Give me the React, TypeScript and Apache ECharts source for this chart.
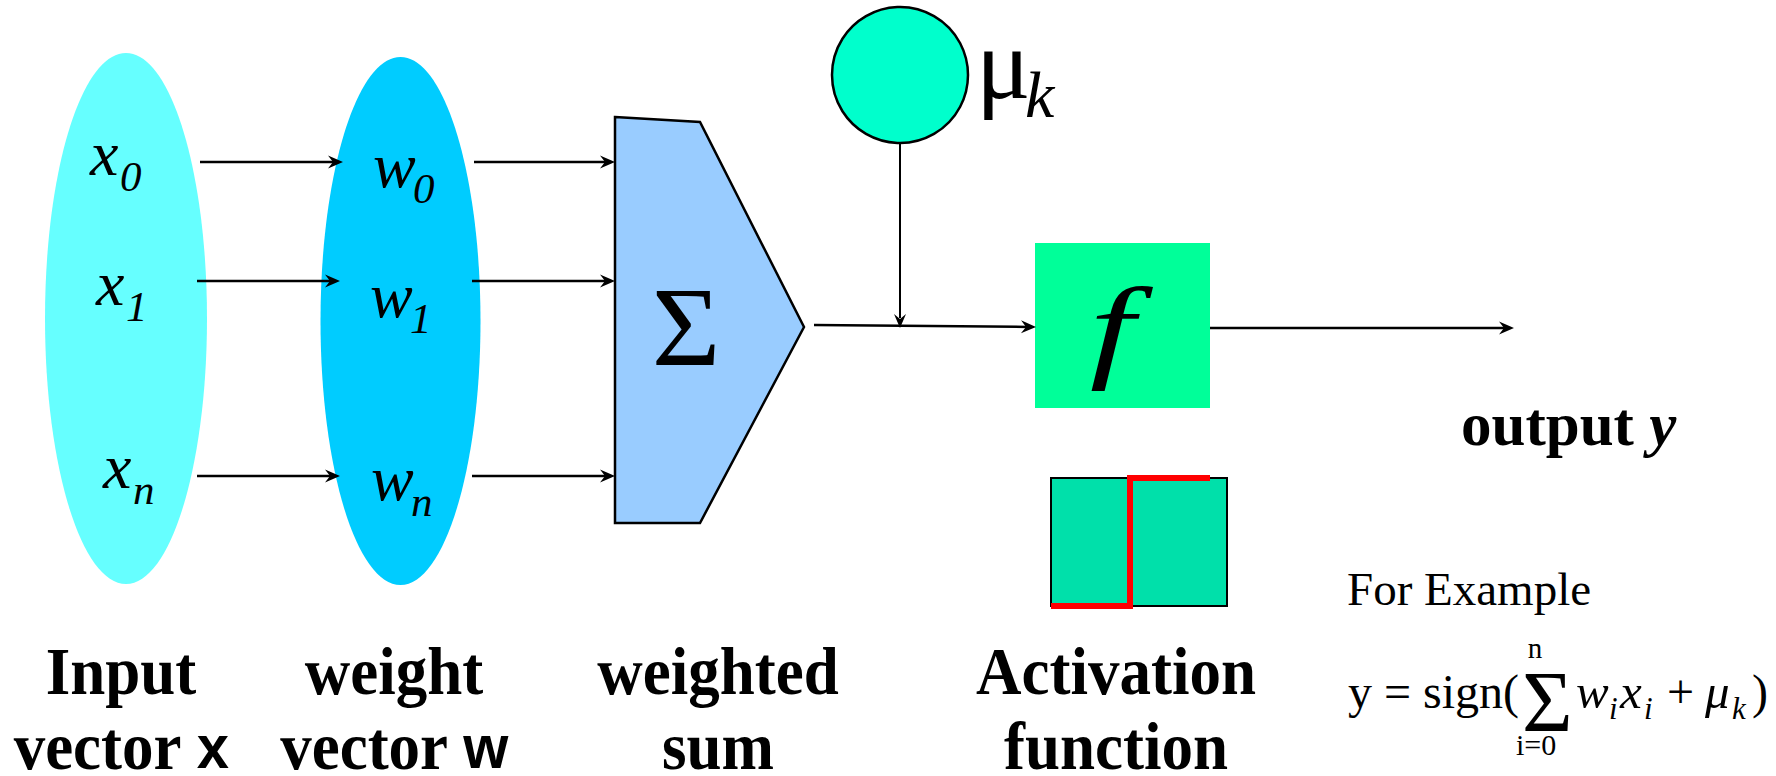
import React, { useEffect, useRef } from 'react';
import * as echarts from 'echarts';

// ---- Diagram content ----
const inputSymbols = ['x', 'x', 'x'];
const weightSymbols = ['w', 'w', 'w'];
const indexSubscripts = ['0', '1', 'n'];
const rowY = [162, 281, 476];
const columnTitleTop = ['Input', 'weight', 'weighted', 'Activation'];
const columnTitleBottom = ['vector ', 'vector ', 'sum', 'function'];
const columnTitleVar = ['x', 'w', '', ''];
const columnCenters = [121, 394, 718, 1116];
const sumSymbol = 'Σ';
const activationSymbol = 'f';
const biasSymbol = 'μ';
const biasSub = 'k';
const outputLabel = 'output ';
const outputVar = 'y';
const exampleLabel = 'For Example';

const SERIF = '"Liberation Serif", "Times New Roman", serif';
const SANS = '"Liberation Sans", Arial, sans-serif';
const CENTRAL = 0.3375;

type TOpts = { align?: string; italic?: boolean; bold?: boolean; sy?: number; sx?: number; family?: string; rich?: any };

function txt(text: string, x: number, baseline: number, fs: number, o: TOpts = {}) {
  const sy = o.sy ?? 1;
  const sx = o.sx ?? 1;
  const font = `${o.italic ? 'italic ' : ''}${o.bold ? 'bold ' : ''}${fs}px ${o.family || SERIF}`;
  const style: any = {
    text,
    x: 0,
    y: 0,
    fill: '#000',
    font,
    fontSize: fs,
    fontFamily: o.family || SERIF,
    fontWeight: o.bold ? 'bold' : 'normal',
    fontStyle: o.italic ? 'italic' : 'normal',
    align: o.align || 'left',
    verticalAlign: 'middle',
  };
  if (o.rich) style.rich = o.rich;
  return { type: 'text', x, y: baseline - CENTRAL * fs * sy, scaleX: sx, scaleY: sy, style, z: 10 };
}

function arrowHead(tx: number, ty: number, angle: number, len = 15, half = 6.5, notch = 10) {
  const c = Math.cos(angle), s = Math.sin(angle);
  const pt = (dx: number, dy: number) => [tx + dx * c - dy * s, ty + dx * s + dy * c];
  return {
    type: 'polygon',
    shape: { points: [pt(0, 0), pt(-len, -half), pt(-notch, 0), pt(-len, half)] },
    style: { fill: '#000' },
    z: 6,
  };
}

function line(x1: number, y1: number, x2: number, y2: number, w = 2.5, color = '#000', z = 5) {
  return { type: 'line', shape: { x1, y1, x2, y2 }, style: { stroke: color, lineWidth: w }, z };
}

function arrow(x1: number, y1: number, x2: number, y2: number, w = 2.5) {
  const a = Math.atan2(y2 - y1, x2 - x1);
  return [line(x1, y1, x2 - 8 * Math.cos(a), y2 - 8 * Math.sin(a), w), arrowHead(x2, y2, a)];
}

function buildElements() {
  const els: any[] = [];
  // input & weight ellipses
  els.push({ type: 'ellipse', shape: { cx: 126, cy: 318.5, rx: 81, ry: 265.5 }, style: { fill: '#66FFFF' }, z: 1 });
  els.push({ type: 'ellipse', shape: { cx: 400.5, cy: 321, rx: 80, ry: 264 }, style: { fill: '#00CCFF' }, z: 1 });

  // labels in ellipses
  const xLeft = [90, 96, 103];
  const wLeft = [373, 370, 371];
  const baseOff = [13, 24, 12];
  inputSymbols.forEach((s, i) => {
    const b = rowY[i] + baseOff[i];
    els.push(txt(s, xLeft[i], b, 64, { italic: true }));
    els.push(txt(indexSubscripts[i], xLeft[i] + 30, b + 16, 43, { italic: true }));
  });
  weightSymbols.forEach((s, i) => {
    const b = rowY[i] + baseOff[i] + 12;
    els.push(txt(s, wLeft[i], b, 64, { italic: true }));
    els.push(txt(indexSubscripts[i], wLeft[i] + 40, b + 16, 43, { italic: true }));
  });

  // arrows x -> w, w -> sum
  rowY.forEach((y, i) => {
    els.push(...arrow(i === 0 ? 200 : 197, y, i === 0 ? 343 : 340, y));
    els.push(...arrow(i === 0 ? 474 : 472, y, 615, y));
  });

  // summation pentagon
  els.push({
    type: 'polygon',
    shape: { points: [[615, 117], [700, 122], [804, 327], [700, 523], [615, 523]] },
    style: { fill: '#99CCFF', stroke: '#000', lineWidth: 2.5 },
    z: 3,
  });
  els.push(txt(sumSymbol, 686, 365, 118, { align: 'center', sy: 0.95 }));

  // bias circle
  els.push({ type: 'circle', shape: { cx: 900, cy: 75, r: 68 }, style: { fill: '#00FFCC', stroke: '#000', lineWidth: 2.5 }, z: 3 });
  els.push(txt(biasSymbol, 976, 98, 102, {}));
  els.push(txt(biasSub, 1025, 117, 66, { italic: true }));
  els.push(line(900, 143, 900, 318, 2));
  els.push(arrowHead(900, 328, Math.PI / 2, 14, 6, 9));

  // sum -> f
  els.push(...arrow(814, 325, 1036, 327));

  // activation box
  els.push({ type: 'rect', shape: { x: 1035, y: 243, width: 175, height: 165 }, style: { fill: '#00FF99' }, z: 3 });
  els.push(txt(activationSymbol, 1112, 367, 115, { italic: true, align: 'center', sx: 1.4 }));
  els.push(...arrow(1210, 328, 1514, 328));

  // output label
  els.push(
    txt(`{a|${outputLabel}}{b|${outputVar}}`, 1461, 445, 61, {
      bold: true,
      rich: {
        a: { fontFamily: SERIF, fontWeight: 'bold', fontSize: 61, fill: '#000', verticalAlign: 'middle' },
        b: { fontFamily: SERIF, fontWeight: 'bold', fontStyle: 'italic', fontSize: 61, fill: '#000', verticalAlign: 'middle' },
      },
    })
  );

  // step function box
  els.push({ type: 'rect', shape: { x: 1051, y: 478, width: 176, height: 128 }, style: { fill: '#00E0AA', stroke: '#000', lineWidth: 2 }, z: 3 });
  els.push({
    type: 'polyline',
    shape: { points: [[1051, 606], [1130, 606], [1130, 478], [1210, 478]] },
    style: { stroke: '#FF0000', lineWidth: 6, fill: null },
    z: 4,
  });

  // column titles
  columnTitleTop.forEach((t, i) => {
    els.push(txt(t, columnCenters[i], 694, 63, { bold: true, align: 'center', sy: 1.06 }));
    const v = columnTitleVar[i];
    const bottom = v ? `{a|${columnTitleBottom[i]}}{b|${v}}` : `{a|${columnTitleBottom[i]}}`;
    els.push(
      txt(bottom, columnCenters[i], 769, 63, {
        bold: true,
        align: 'center',
        sy: 1.06,
        rich: {
          a: { fontFamily: SERIF, fontWeight: 'bold', fontSize: 63, fill: '#000', verticalAlign: 'middle' },
          b: { fontFamily: SANS, fontWeight: 'bold', fontSize: 58, fill: '#000', verticalAlign: 'middle' },
        },
      })
    );
  });

  // example formula
  els.push(txt(exampleLabel, 1347, 605, 47));
  els.push(txt('y = sign(', 1348, 708, 48));
  els.push(txt('Σ', 1522, 731, 87));
  els.push(txt('n', 1535, 658, 29, { align: 'center' }));
  els.push(txt('i=0', 1536, 755, 30, { align: 'center' }));
  els.push(txt('w', 1576, 708, 49, { italic: true }));
  els.push(txt('i', 1609, 719, 31, { italic: true }));
  els.push(txt('x', 1620, 708, 49, { italic: true }));
  els.push(txt('i', 1644, 719, 31, { italic: true }));
  els.push(txt('+', 1667, 708, 48));
  els.push(txt('μ', 1705, 708, 49, { italic: true }));
  els.push(txt('k', 1732, 719, 31, { italic: true }));
  els.push(txt(')', 1752, 708, 48));
  return els;
}

export default function App() {
  const ref = useRef<HTMLDivElement>(null);
  useEffect(() => {
    if (!ref.current) return;
    const chart = echarts.init(ref.current, null, { renderer: 'svg', width: 1776, height: 776 });
    chart.setOption({
      animation: false,
      backgroundColor: '#ffffff',
      graphic: { elements: buildElements() },
    });
    return () => chart.dispose();
  }, []);
  return (
    <div
      ref={ref}
      style={{ position: 'fixed', left: 0, top: 0, width: 1776, height: 776, background: '#fff' }}
    />
  );
}
